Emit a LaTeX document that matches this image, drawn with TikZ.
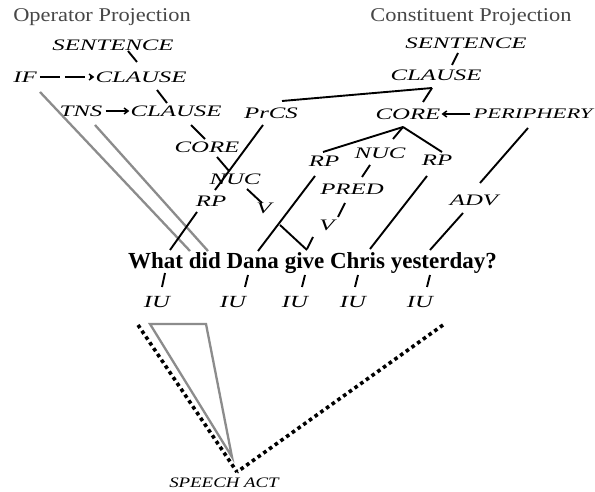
\documentclass[tikz,border=0pt]{standalone}
\usepackage{fontspec}
\setmainfont{Liberation Serif}
\newfontfamily\headfont{Liberation Serif}[FakeStretch=1.15]
\newfontfamily\lblfont{Liberation Serif}[FakeStretch=1.55]
\newfontfamily\iufont{Liberation Serif}[FakeStretch=1.45]
\newfontfamily\safont{Liberation Serif}[FakeStretch=1.3]
\usetikzlibrary{arrows.meta}
\begin{document}
\begin{tikzpicture}[x=1pt,y=-1pt,
  head/.style={inner sep=0pt, text=black!72, font=\headfont\fontsize{19.5}{22}\selectfont},
  lbl/.style={inner sep=0pt, font=\lblfont\itshape\fontsize{16}{18}\selectfont},
  iu/.style={inner sep=0pt, font=\iufont\itshape\fontsize{17}{19}\selectfont},
  salbl/.style={inner sep=0pt, font=\safont\itshape\fontsize{14.5}{16}\selectfont},
  word/.style={inner sep=0pt, anchor=base west, font=\bfseries\fontsize{23}{26}\selectfont},
  ln/.style={line width=1.9pt, draw=black},
  gln/.style={line width=2.3pt, draw=black!45},
  dotln/.style={line width=3.6pt, draw=black, dash pattern=on 3.6pt off 3.4pt},
  arr/.style={line width=1.5pt, draw=black, -{Straight Barb[length=4pt,width=6pt]}, shorten <=3pt, shorten >=1pt}
]
\fill[white] (0,0) rectangle (595,492);
\useasboundingbox (0,0) rectangle (595,492);

% headers
\node[head] (opHead) at (102,17) {Operator Projection};
\node[head] (conHead) at (471,17) {Constituent Projection};

% operator projection
\node[lbl] (opS) at (113,45) {SENTENCE};
\node[lbl] (opIF) at (25,77) {IF};
\node[lbl] (opCl1) at (141,77) {CLAUSE};
\node[lbl] (opTNS) at (81,111) {TNS};
\node[lbl] (opCl2) at (176,111) {CLAUSE};
\node[lbl] (opCore) at (207,147) {CORE};
\node[lbl] (opNuc) at (235,179) {NUC};
\node[lbl] (opV) at (264,208) {V};

% constituent projection
\node[lbl] (cS) at (466,43) {SENTENCE};
\node[lbl] (cCl) at (436,75) {CLAUSE};
\node[lbl] (prcs) at (271,113) {PrCS};
\node[lbl] (cCore) at (408,114) {CORE};
\node[lbl, font=\lblfont\itshape\fontsize{14.6}{17}\selectfont] (peri) at (533,114) {PERIPHERY};
\node[lbl] (rpW) at (211,201) {RP};
\node[lbl] (rp1) at (324,161) {RP};
\node[lbl] (nuc) at (380,153) {NUC};
\node[lbl] (rp2) at (437,160) {RP};
\node[lbl] (pred) at (352,189) {PRED};
\node[lbl] (vC) at (327,225) {V};
\node[lbl] (adv) at (474,200) {ADV};

% sentence
\node[word] (w1) at (128,269) {What};
\node[word] (w2) at (188.7,269) {did};
\node[word] (w3) at (226.4,269) {Dana};
\node[word] (w4) at (284.6,269) {give};
\node[word] (w5) at (329.9,269) {Chris};
\node[word] (w6) at (390.6,269) {yesterday?};

% intonation units
\node[iu] (iu1) at (157,302) {IU};
\node[iu] (iu2) at (233,302) {IU};
\node[iu] (iu3) at (295,302) {IU};
\node[iu] (iu4) at (353,302) {IU};
\node[iu] (iu5) at (420,302) {IU};

\node[salbl] (sa) at (224,483) {SPEECH ACT};

% operator connectors
\draw[ln] ([shift={(15,6)}]opS.center) -- ([shift={(-4,-15)}]opCl1.center);
\draw[arr, dash pattern=on 20pt off 5pt] (opIF.east) -- (opCl1.west);
\draw[ln] ([shift={(16,13)}]opCl1.center) -- ([shift={(-9,-8)}]opCl2.center);
\draw[arr] (opTNS.east) -- (opCl2.west);
\draw[ln] ([shift={(15,14)}]opCl2.center) -- ([shift={(-2,-8)}]opCore.center);
\draw[ln] ([shift={(10,10)}]opCore.center) -- ([shift={(-6,-8)}]opNuc.center);
\draw[ln] ([shift={(12,10)}]opNuc.center) -- ([shift={(-2,-5)}]opV.center);
\draw[ln] ([shift={(16,17)}]opV.center) -- ([shift={(22.4,-19)}]w4.base west);
\draw[gln] ([shift={(15,15)}]opIF.center) -- ([shift={(1.3,-18)}]w2.base west);
\draw[gln] ([shift={(14,14)}]opTNS.center) -- ([shift={(19.3,-18)}]w2.base west);

% constituent connectors
\draw[ln] ([shift={(-8,10)}]cS.center) -- ([shift={(16,-10)}]cCl.center);
\draw[ln] ([shift={(-4,13)}]cCl.center) -- ([shift={(11,-12)}]prcs.center);
\draw[ln] ([shift={(-4,13)}]cCl.center) -- ([shift={(15,-12)}]cCore.center);
\draw[arr] (peri.west) -- (cCore.east);
\draw[ln] ([shift={(-5,13)}]cCore.center) -- ([shift={(-1,-9)}]rp1.center);
\draw[ln] ([shift={(-5,13)}]cCore.center) -- ([shift={(13,-14)}]nuc.center);
\draw[ln] ([shift={(-5,13)}]cCore.center) -- ([shift={(5,-8)}]rp2.center);
\draw[ln] ([shift={(-10,12)}]nuc.center) -- ([shift={(10,-12)}]pred.center);
\draw[ln] ([shift={(-7,14)}]pred.center) -- ([shift={(11,-8)}]vC.center);
\draw[ln] ([shift={(-14,12)}]vC.center) -- ([shift={(22.4,-20)}]w4.base west);
\draw[ln] ([shift={(-8,12)}]prcs.center) -- ([shift={(4,-11)}]rpW.center);
\draw[ln] ([shift={(-14,11)}]rpW.center) -- ([shift={(42,-19)}]w1.base west);
\draw[ln] ([shift={(-9,15)}]rp1.center) -- ([shift={(31.6,-18)}]w3.base west);
\draw[ln] ([shift={(-10,16)}]rp2.center) -- ([shift={(40.1,-20)}]w5.base west);
\draw[ln] ([shift={(-5,14)}]peri.center) -- ([shift={(6,-17)}]adv.center);
\draw[ln] ([shift={(-11,13)}]adv.center) -- ([shift={(39.4,-19)}]w6.base west);

% words to intonation units
\draw[ln] ([shift={(37,4)}]w1.base west) -- ([shift={(5,-15)}]iu1.center);
\draw[ln] ([shift={(21.6,6)}]w3.base west) -- ([shift={(12,-15)}]iu2.center);
\draw[ln] ([shift={(20.4,6)}]w4.base west) -- ([shift={(7,-15)}]iu3.center);
\draw[ln] ([shift={(28.1,6)}]w5.base west) -- ([shift={(2,-15)}]iu4.center);
\draw[ln] ([shift={(39.4,6)}]w6.base west) -- ([shift={(7,-15)}]iu5.center);

% focus structure
\coordinate (saTop) at ([shift={(13,-11)}]sa.center);
\coordinate (pfL) at (138,325);
\coordinate (pfR) at (443,325);
\draw[dotln] (pfL) -- (saTop);
\draw[dotln] (pfR) -- (saTop);
\draw[gln, line join=miter] (150,324) -- (206,324) -- (232,457) -- cycle;
\end{tikzpicture}
\end{document}
